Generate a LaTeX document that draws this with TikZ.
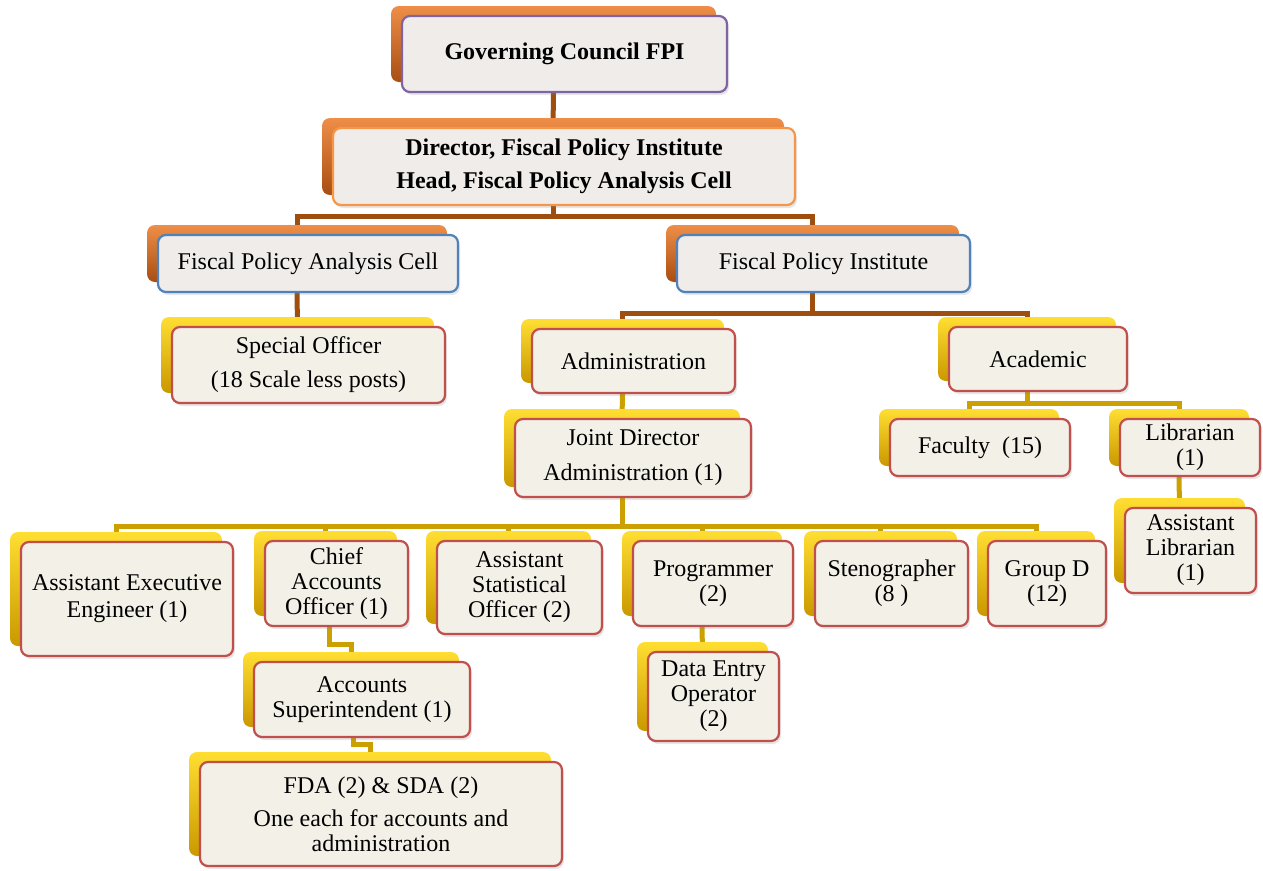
\documentclass[tikz,border=0pt]{standalone}
\usepackage{fontspec}
\setmainfont{Liberation Serif}
\usetikzlibrary{shadows,backgrounds}
\definecolor{linkbrown}{RGB}{158,78,14}
\definecolor{linkgold}{RGB}{204,160,0}
\definecolor{slabbrowntop}{RGB}{238,142,72}
\definecolor{slabbrownbot}{RGB}{168,78,18}
\definecolor{slabgoldtop}{RGB}{255,222,50}
\definecolor{slabgoldbot}{RGB}{202,152,0}
\definecolor{greyfill}{RGB}{239,236,233}
\definecolor{creamfill}{RGB}{243,240,231}
\definecolor{bpurple}{RGB}{128,100,162}
\definecolor{borange}{RGB}{247,150,70}
\definecolor{bblue}{RGB}{79,129,189}
\definecolor{bred}{RGB}{192,80,77}
\begin{document}
\begin{tikzpicture}[x=1pt,y=-1pt,
  box/.style={draw=#1, line width=2.2pt, rounded corners=8pt, align=center, inner sep=0pt,
    font=\fontsize{24}{25}\selectfont,
    drop shadow={shadow xshift=2pt, shadow yshift=-3pt, opacity=0.2}},
  topbox/.style={box=#1, fill=greyfill,
    general shadow={shadow xshift=-11pt, shadow yshift=10pt, top color=slabbrowntop, bottom color=slabbrownbot}},
  lowbox/.style={box=bred, fill=creamfill,
    general shadow={shadow xshift=-11pt, shadow yshift=10pt, top color=slabgoldtop, bottom color=slabgoldbot}},
  brownlink/.style={draw=linkbrown, line width=5pt},
  goldlink/.style={draw=linkgold, line width=5pt}]
\useasboundingbox (0,0) rectangle (1263,870);

\node[topbox=bpurple, minimum width=325pt, minimum height=76pt, font=\fontsize{24}{25}\selectfont\bfseries] (gov) at (564.5,54) {Governing Council FPI};
\node[topbox=borange, minimum width=462pt, minimum height=77pt, font=\fontsize{24}{25}\selectfont\bfseries] (dir) at (564,166.5) {Director, Fiscal Policy Institute\\[8pt]Head, Fiscal Policy Analysis Cell};
\node[topbox=bblue, minimum width=300pt, minimum height=57pt] (fpac) at (308,263.5) {Fiscal Policy Analysis Cell};
\node[topbox=bblue, minimum width=293pt, minimum height=57pt] (fpi) at (823.5,263.5) {Fiscal Policy Institute};

\node[lowbox, minimum width=273pt, minimum height=76pt] (spo) at (308.5,365) {Special Officer\\[9pt](18 Scale less posts)};
\node[lowbox, minimum width=203pt, minimum height=64pt] (adm) at (633.5,361) {Administration};
\node[lowbox, minimum width=178pt, minimum height=64pt] (aca) at (1038,359) {Academic};
\node[lowbox, minimum width=236pt, minimum height=78pt] (jd) at (633,458) {Joint Director\\[10pt]Administration (1)};
\node[lowbox, minimum width=180pt, minimum height=57pt] (fac) at (980,447.5) {Faculty~~(15)};
\node[lowbox, minimum width=140pt, minimum height=57pt] (lib) at (1190,447.5) {Librarian\\(1)};
\node[lowbox, minimum width=131pt, minimum height=85pt] (alib) at (1190.5,550.5) {Assistant\\Librarian\\(1)};

\node[lowbox, minimum width=212pt, minimum height=114pt] (aee) at (127,599) {Assistant Executive\\[2pt]Engineer (1)};
\node[lowbox, minimum width=143pt, minimum height=85pt] (cao) at (336.5,583.5) {Chief\\Accounts\\Officer (1)};
\node[lowbox, minimum width=165pt, minimum height=93pt] (aso) at (519.5,587.5) {Assistant\\Statistical\\Officer (2)};
\node[lowbox, minimum width=160pt, minimum height=85pt] (prog) at (713,583.5) {Programmer\\(2)};
\node[lowbox, minimum width=153pt, minimum height=85pt] (steno) at (891.5,583.5) {Stenographer\\(8 )};
\node[lowbox, minimum width=118pt, minimum height=85pt] (grpd) at (1047,583.5) {Group D\\(12)};

\node[lowbox, minimum width=131pt, minimum height=89pt] (deo) at (713.5,696.5) {Data Entry\\Operator\\(2)};
\node[lowbox, minimum width=216pt, minimum height=75pt] (as) at (362,699.5) {Accounts\\Superintendent (1)};
\node[lowbox, minimum width=362pt, minimum height=104pt] (fda) at (381,814) {FDA (2) \& SDA (2)\\[8pt]One each for accounts and\\administration};

\begin{scope}[on background layer]
\path[brownlink] ([xshift=-11pt]gov.south) -- ([xshift=-11pt]dir.north);
\path[brownlink] ([xshift=-11pt]dir.south) -- ++(0,10) coordinate (dirbus);
\path[brownlink] (dirbus) -| ([xshift=-11pt]fpac.north);
\path[brownlink] (dirbus) -| ([xshift=-11pt]fpi.north);
\path[brownlink] ([xshift=-11pt]fpac.south) -- ([xshift=-11pt]spo.north);
\path[brownlink] ([xshift=-11pt]fpi.south) -- ++(0,20) coordinate (fpibus);
\path[brownlink] (fpibus) -| ([xshift=-11pt]adm.north);
\path[brownlink] (fpibus) -| ([xshift=-11pt]aca.north);

\path[goldlink] ([xshift=-11pt]adm.south) -- ([xshift=-11pt]jd.north);
\path[goldlink] ([xshift=-11pt]aca.south) -- ++(0,11) coordinate (acabus);
\path[goldlink] (acabus) -| ([xshift=-11pt]fac.north);
\path[goldlink] (acabus) -| ([xshift=-11pt]lib.north);
\path[goldlink] ([xshift=-11pt]lib.south) -- ([xshift=-11pt]alib.north);

\path[goldlink] ([xshift=-11pt]jd.south) -- ++(0,28) coordinate (jdbus);
\foreach \n in {aee,cao,aso,prog,steno,grpd}
  \path[goldlink] (jdbus) -| ([xshift=-11pt]\n.north);

\path[goldlink] ([xshift=-7pt]cao.south) -- ++(0,17) -| ([xshift=-11pt]as.north);
\path[goldlink] ([xshift=-9pt]as.south) -- ++(0,6) -| ([xshift=-11pt]fda.north);
\path[goldlink] ([xshift=-11pt]prog.south) -- ([xshift=-11pt]deo.north);
\end{scope}
\end{tikzpicture}
\end{document}
